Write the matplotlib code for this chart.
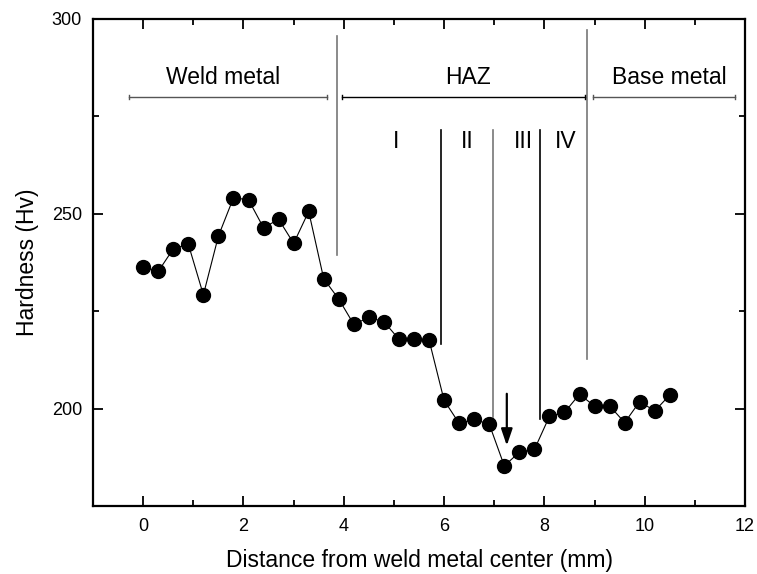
import matplotlib
matplotlib.use("Agg")
import matplotlib.pyplot as plt
from matplotlib.ticker import MultipleLocator

plt.rcParams['font.family'] = ['Liberation Sans', 'DejaVu Sans']

# hardness profile
distance = [0.0, 0.3, 0.6, 0.9, 1.2, 1.5, 1.8, 2.1, 2.4, 2.7, 3.0, 3.3, 3.6, 3.9,
            4.2, 4.5, 4.8, 5.1, 5.4, 5.7, 6.0, 6.3, 6.6, 6.9, 7.2, 7.5, 7.8, 8.1,
            8.4, 8.7, 9.0, 9.3, 9.6, 9.9, 10.2, 10.5]
hardness = [236.4, 235.2, 241.0, 242.2, 229.2, 244.3, 254.1, 253.6, 246.4, 248.6,
            242.4, 250.6, 233.3, 228.1, 221.6, 223.4, 222.3, 217.8, 217.8, 217.6,
            202.1, 196.2, 197.2, 196.0, 185.3, 188.8, 189.5, 198.0, 199.0, 203.7,
            200.6, 200.7, 196.4, 201.8, 199.4, 203.5]

# zone boundaries: x, y bottom, y top, colour
boundary_x = [3.87, 5.94, 6.98, 7.91, 8.85]
boundary_lo = [239.4, 216.6, 197.9, 197.3, 212.8]
boundary_hi = [295.7, 271.4, 271.4, 271.4, 297.2]
boundary_col = ['#777777', 'black', '#777777', 'black', '#777777']

# region brackets
region_names = ['Weld metal', 'HAZ', 'Base metal']
region_start = [-0.28, 3.96, 8.96]
region_end = [3.67, 8.80, 11.79]
region_col = ['#555555', 'black', '#555555']
region_text_x = [1.59, 6.47, 10.49]

sub_names = ['I', 'II', 'III', 'IV']
sub_x = [5.05, 6.47, 7.58, 8.43]

fig = plt.figure(figsize=(7.57, 5.74), dpi=100)
ax = fig.add_axes([0.1229, 0.1185, 0.8613, 0.8484])

ax.plot(distance, hardness, '-', color='black', lw=0.8,
        marker='o', markersize=10, markerfacecolor='black', zorder=3)

for x, lo, hi, c in zip(boundary_x, boundary_lo, boundary_hi, boundary_col):
    ax.plot([x, x], [lo, hi], color=c, lw=1.2)

for name, s, e, c, tx in zip(region_names, region_start, region_end, region_col, region_text_x):
    ax.plot([s, e], [280, 280], color=c, lw=1.0)
    ax.plot([s, s], [279.4, 280.6], color=c, lw=1.0)
    ax.plot([e, e], [279.4, 280.6], color=c, lw=1.0)
    ax.text(tx, 285, name, ha='center', va='center', fontsize=16.5)

for name, x in zip(sub_names, sub_x):
    ax.text(x, 268.6, name, ha='center', va='center', fontsize=16.5)

ax.annotate('', xy=(7.25, 190.5), xytext=(7.25, 203.8),
            arrowprops=dict(arrowstyle='-|>,head_length=0.5,head_width=0.17',
                            color='black', lw=1.6, mutation_scale=20,
                            shrinkA=0, shrinkB=0))

ax.set_xlim(-1, 12)
ax.set_ylim(175, 300)
ax.xaxis.set_major_locator(MultipleLocator(2))
ax.xaxis.set_minor_locator(MultipleLocator(1))
ax.yaxis.set_major_locator(MultipleLocator(50))
ax.yaxis.set_minor_locator(MultipleLocator(25))
ax.tick_params(which='both', direction='in', top=True, right=True, labelsize=13, width=1.3)
ax.tick_params(which='major', length=7)
ax.tick_params(axis='x', which='major', pad=9)
ax.tick_params(axis='y', which='major', pad=8)
ax.tick_params(which='minor', length=4)
for sp in ax.spines.values():
    sp.set_linewidth(1.6)

ax.set_xlabel('Distance from weld metal center (mm)', fontsize=16.5, labelpad=10)
ax.set_ylabel('Hardness (Hv)', fontsize=16.5, labelpad=9)

fig.savefig('out.png', dpi=100)
